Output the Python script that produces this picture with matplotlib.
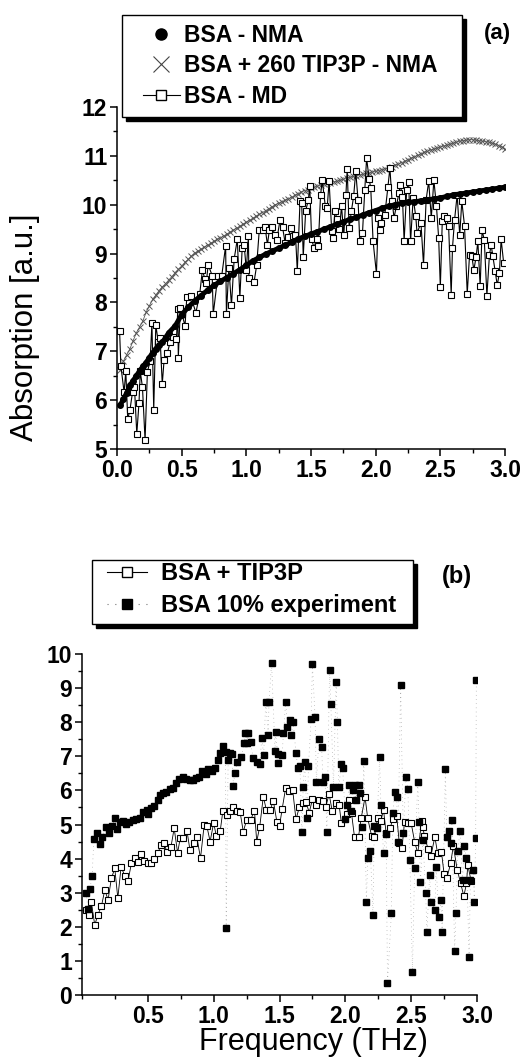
import numpy as np
import matplotlib
matplotlib.use("Agg")
import matplotlib.pyplot as plt
from matplotlib.lines import Line2D
from matplotlib.patches import Rectangle
from matplotlib.ticker import MultipleLocator, FormatStrFormatter

plt.rcParams["font.family"] = ["Liberation Sans", "DejaVu Sans"]

# ---------------- panel (a) data ----------------
# BSA - NMA (black dots)
nma_x = [0.025, 0.05, 0.075, 0.1, 0.125, 0.15, 0.175, 0.2, 0.225, 0.25, 0.275, 0.3,
         0.325, 0.35, 0.375, 0.4, 0.45, 0.5, 0.55, 0.6, 0.65, 0.7, 0.75, 0.8, 0.85,
         0.9, 0.95, 1.0, 1.05, 1.1, 1.15, 1.2, 1.25, 1.3, 1.35, 1.4, 1.45, 1.5, 1.55,
         1.6, 1.65, 1.7, 1.75, 1.8, 1.85, 1.9, 1.95, 2.0, 2.05, 2.1, 2.15, 2.2, 2.25,
         2.3, 2.35, 2.4, 2.45, 2.5, 2.55, 2.6, 2.65, 2.7, 2.75, 2.8, 2.85, 2.9, 2.95, 3.0]
nma_y = [5.90, 6.02, 6.15, 6.30, 6.40, 6.50, 6.60, 6.69, 6.77, 6.87, 6.97, 7.05,
         7.12, 7.18, 7.28, 7.38, 7.52, 7.75, 7.90, 8.03, 8.14, 8.25, 8.35, 8.43, 8.51,
         8.59, 8.67, 8.76, 8.85, 8.92, 8.99, 9.05, 9.11, 9.17, 9.23, 9.30, 9.35, 9.40, 9.45,
         9.50, 9.55, 9.60, 9.65, 9.70, 9.74, 9.79, 9.84, 9.88, 9.93, 9.97, 10.00, 10.03, 10.05,
         10.06, 10.08, 10.10, 10.12, 10.14, 10.17, 10.20, 10.22, 10.24, 10.26, 10.28, 10.30,
         10.32, 10.34, 10.36]

# BSA + 260 TIP3P - NMA (x markers)
tip_x = np.arange(1, 121) * 0.025
tip_y = [6.62, 6.80, 6.93, 7.05, 7.22, 7.38, 7.50, 7.62, 7.80, 7.93, 8.06, 8.15,
         8.24, 8.32, 8.38, 8.46, 8.53, 8.61, 8.68, 8.74, 8.82, 8.88, 8.95, 9.01,
         9.05, 9.09, 9.13, 9.17, 9.21, 9.25, 9.29, 9.32, 9.36, 9.40, 9.44, 9.48,
         9.52, 9.56, 9.60, 9.64, 9.68, 9.72, 9.76, 9.80, 9.84, 9.88, 9.92, 9.96,
         10.00, 10.03, 10.06, 10.09, 10.12, 10.15, 10.19, 10.22, 10.26, 10.29, 10.31, 10.34,
         10.36, 10.38, 10.40, 10.42, 10.44, 10.45, 10.47, 10.48, 10.50, 10.52, 10.54, 10.56,
         10.58, 10.59, 10.61, 10.62, 10.64, 10.65, 10.67, 10.68, 10.70, 10.72, 10.74, 10.76,
         10.78, 10.81, 10.83, 10.86, 10.89, 10.92, 10.95, 10.98, 11.01, 11.04, 11.07, 11.09,
         11.12, 11.14, 11.16, 11.18, 11.20, 11.22, 11.24, 11.26, 11.28, 11.30, 11.31, 11.32,
         11.33, 11.33, 11.32, 11.31, 11.30, 11.29, 11.28, 11.26, 11.24, 11.21, 11.18, 11.14]

# BSA - MD (open squares)
md_x = [0.02, 0.03, 0.055, 0.068, 0.083, 0.10, 0.12, 0.135, 0.153, 0.17, 0.18, 0.197,
        0.217, 0.235, 0.256, 0.27, 0.284, 0.30, 0.32, 0.333, 0.35, 0.364, 0.39, 0.41,
        0.43, 0.46, 0.47, 0.474, 0.49, 0.526, 0.54, 0.57, 0.61, 0.64, 0.66, 0.68,
        0.69, 0.705, 0.736, 0.744, 0.78, 0.81, 0.84, 0.846, 0.865, 0.885, 0.906, 0.93,
        0.95, 0.968, 0.983, 1.0, 1.016, 1.02, 1.06, 1.08, 1.10, 1.127, 1.145, 1.163,
        1.178, 1.20, 1.22, 1.235, 1.26, 1.28, 1.30, 1.325, 1.343, 1.363, 1.38, 1.394,
        1.415, 1.428, 1.44, 1.459, 1.48, 1.49, 1.505, 1.523, 1.543, 1.556, 1.574, 1.587,
        1.61, 1.625, 1.64, 1.66, 1.67, 1.685, 1.70, 1.72, 1.736, 1.754, 1.77, 1.78,
        1.795, 1.813, 1.83, 1.846, 1.864, 1.877, 1.898, 1.916, 1.93, 1.95, 1.962, 1.98,
        2.006, 2.02, 2.03, 2.04, 2.07, 2.095, 2.11, 2.127, 2.142, 2.16, 2.18, 2.19,
        2.207, 2.22, 2.24, 2.255, 2.27, 2.29, 2.31, 2.32, 2.35, 2.37, 2.39, 2.41,
        2.43, 2.45, 2.47, 2.487, 2.50, 2.515, 2.53, 2.548, 2.564, 2.584, 2.594, 2.61,
        2.63, 2.65, 2.666, 2.687, 2.708, 2.726, 2.743, 2.759, 2.777, 2.79, 2.808, 2.823,
        2.84, 2.86, 2.88, 2.893, 2.905, 2.924, 2.94, 2.957, 2.97, 2.99]
md_y = [7.41, 6.70, 6.16, 6.60, 5.61, 5.80, 6.16, 6.27, 5.31, 5.94, 6.59, 6.26,
        5.18, 6.58, 6.80, 7.57, 5.80, 7.53, 7.18, 7.28, 6.33, 6.82, 6.97, 7.18,
        7.29, 7.26, 7.86, 6.87, 7.89, 7.52, 8.12, 8.13, 7.79, 8.18, 8.66, 8.48,
        8.40, 8.77, 8.55, 7.76, 8.55, 8.55, 9.16, 7.76, 8.71, 7.94, 8.89, 9.29,
        8.10, 9.12, 9.18, 8.66, 9.36, 8.50, 8.42, 8.76, 9.48, 9.49, 9.54, 9.18,
        9.48, 9.54, 9.39, 9.27, 9.68, 9.54, 9.22, 9.34, 9.52, 9.36, 9.39, 8.64,
        10.07, 10.03, 8.94, 9.88, 10.10, 10.39, 9.29, 9.12, 9.29, 9.16, 10.20, 10.50,
        9.98, 9.93, 10.48, 9.46, 9.32, 9.88, 9.71, 9.50, 9.97, 9.37, 10.20, 10.73,
        9.52, 9.88, 10.18, 10.68, 10.09, 9.25, 9.42, 10.31, 10.95, 10.52, 10.34, 9.25,
        8.59, 9.73, 9.48, 9.63, 9.78, 10.37, 10.75, 10.07, 9.73, 9.97, 10.24, 10.41,
        10.16, 9.25, 10.31, 10.46, 9.25, 10.14, 9.76, 9.42, 9.63, 8.77, 10.10, 10.48,
        9.73, 10.50, 9.97, 9.32, 8.31, 9.66, 9.76, 9.73, 9.56, 8.16, 9.12, 9.69,
        10.20, 9.37, 10.07, 9.57, 8.18, 8.98, 8.96, 8.66, 8.94, 9.25, 8.33, 9.48,
        9.27, 8.14, 8.98, 9.18, 8.96, 8.64, 8.35, 8.61, 9.29, 8.80]

# ---------------- panel (b) data ----------------
# BSA + TIP3P (open squares)
sim_x = [0.034, 0.052, 0.07, 0.097, 0.12, 0.148, 0.173, 0.198, 0.223, 0.249, 0.272, 0.297,
         0.325, 0.35, 0.375, 0.40, 0.425, 0.45, 0.47, 0.50, 0.524, 0.55, 0.577, 0.60,
         0.62, 0.645, 0.676, 0.70, 0.726, 0.746, 0.77, 0.797, 0.82, 0.847, 0.873, 0.90,
         0.928, 0.948, 0.973, 1.0, 1.02, 1.05, 1.07, 1.10, 1.125, 1.15, 1.175, 1.20,
         1.225, 1.25, 1.28, 1.31, 1.327, 1.35, 1.377, 1.40, 1.43, 1.453, 1.48, 1.50,
         1.52, 1.547, 1.575, 1.60, 1.625, 1.65, 1.676, 1.70, 1.726, 1.75, 1.777, 1.80,
         1.827, 1.85, 1.877, 1.90, 1.93, 1.953, 1.97, 2.01, 2.03, 2.047, 2.07, 2.10,
         2.12, 2.15, 2.17, 2.20, 2.22, 2.245, 2.27, 2.29, 2.31, 2.34, 2.36, 2.39,
         2.41, 2.43, 2.45, 2.475, 2.50, 2.526, 2.55, 2.58, 2.59, 2.60, 2.63, 2.65,
         2.68, 2.70, 2.73, 2.75, 2.77, 2.80, 2.82, 2.85, 2.875, 2.90, 2.92, 2.93, 2.955]
sim_y = [2.49, 2.35, 2.74, 2.05, 2.35, 2.61, 3.08, 2.79, 3.42, 3.71, 2.84, 3.76,
         3.49, 3.35, 3.86, 4.01, 3.91, 4.13, 3.94, 3.88, 3.86, 3.98, 4.17, 4.40,
         4.47, 4.20, 4.35, 4.89, 4.17, 4.60, 4.60, 4.82, 4.25, 4.45, 4.62, 4.01,
         4.99, 4.96, 4.50, 5.05, 4.66, 4.82, 5.40, 5.28, 5.40, 5.52, 5.40, 5.38,
         4.79, 5.13, 5.13, 5.40, 4.50, 4.94, 5.82, 5.43, 5.43, 5.70, 5.08, 4.96,
         5.45, 6.08, 5.99, 6.01, 5.15, 5.50, 5.64, 5.67, 5.35, 5.74, 5.57, 5.72,
         5.70, 5.50, 5.89, 5.40, 5.64, 5.57, 5.04, 5.31, 5.72, 5.33, 4.62, 4.64,
         5.18, 5.80, 5.18, 4.66, 4.64, 5.18, 5.11, 5.43, 4.74, 4.89, 5.15, 5.25,
         4.45, 4.30, 5.08, 5.05, 5.04, 4.50, 4.16, 5.11, 4.92, 4.66, 4.27, 4.08,
         4.64, 4.17, 4.20, 3.55, 3.42, 3.86, 4.37, 3.67, 3.29, 2.90, 3.27, 3.81, 3.35]

# BSA 10% experiment (filled squares)
exp_x = [0.03, 0.047, 0.06, 0.077, 0.09, 0.115, 0.14, 0.155, 0.18, 0.206, 0.23, 0.25,
         0.267, 0.286, 0.31, 0.337, 0.36, 0.39, 0.41, 0.44, 0.46, 0.49, 0.50, 0.526,
         0.55, 0.577, 0.595, 0.615, 0.64, 0.665, 0.69, 0.716, 0.74, 0.767, 0.79, 0.817,
         0.84, 0.867, 0.888, 0.913, 0.94, 0.96, 0.985, 1.01, 1.03, 1.05, 1.07, 1.09,
         1.095, 1.11, 1.125, 1.14, 1.15, 1.16, 1.18, 1.21, 1.23, 1.24, 1.25, 1.26,
         1.28, 1.30, 1.33, 1.35, 1.365, 1.38, 1.395, 1.415, 1.42, 1.44, 1.466, 1.47,
         1.486, 1.49, 1.52, 1.53, 1.547, 1.56, 1.58, 1.59, 1.604, 1.625, 1.64, 1.655,
         1.67, 1.68, 1.69, 1.71, 1.72, 1.74, 1.75, 1.77, 1.78, 1.80, 1.82, 1.83,
         1.845, 1.86, 1.88, 1.89, 1.91, 1.93, 1.94, 1.95, 1.97, 1.98, 2.00, 2.01,
         2.03, 2.04, 2.06, 2.07, 2.08, 2.10, 2.115, 2.13, 2.14, 2.16, 2.17, 2.19,
         2.21, 2.22, 2.24, 2.26, 2.27, 2.29, 2.31, 2.32, 2.35, 2.36, 2.375, 2.39,
         2.40, 2.42, 2.44, 2.46, 2.475, 2.49, 2.51, 2.526, 2.55, 2.56, 2.57, 2.59,
         2.61, 2.62, 2.64, 2.65, 2.68, 2.69, 2.71, 2.73, 2.735, 2.76, 2.77, 2.79,
         2.80, 2.81, 2.83, 2.84, 2.855, 2.87, 2.89, 2.905, 2.92, 2.94, 2.95, 2.97,
         2.98, 2.99, 2.995]
exp_y = [2.98, 2.51, 3.10, 3.49, 4.57, 4.76, 4.43, 4.64, 4.92, 4.74, 4.96, 5.18,
         4.86, 5.08, 5.10, 5.01, 5.08, 5.13, 5.15, 5.20, 5.38, 5.43, 5.31, 5.47,
         5.54, 5.72, 5.87, 5.91, 5.96, 6.03, 6.08, 6.21, 6.33, 6.38, 6.33, 6.30,
         6.30, 6.35, 6.40, 6.58, 6.48, 6.62, 6.58, 6.65, 6.89, 7.11, 7.30, 7.14,
         1.96, 6.89, 7.09, 7.06, 6.13, 6.50, 6.84, 6.97, 7.38, 7.67, 7.38, 7.67,
         7.43, 6.94, 6.84, 6.77, 7.53, 7.04, 8.60, 7.62, 8.60, 9.73, 7.16, 7.72,
         7.06, 6.79, 7.04, 7.67, 8.60, 7.85, 8.06, 7.62, 8.01, 7.09, 6.65, 6.72,
         4.79, 6.11, 6.84, 5.18, 6.72, 8.08, 9.70, 8.16, 6.26, 7.52, 7.28, 6.26,
         6.40, 4.79, 9.53, 8.53, 6.11, 9.19, 8.01, 6.11, 6.77, 6.65, 5.15, 5.57,
         6.16, 5.40, 6.01, 6.16, 5.72, 6.16, 5.91, 4.94, 6.87, 2.72, 4.01, 4.23,
         2.35, 4.95, 4.90, 6.97, 5.57, 4.16, 4.72, 0.36, 2.40, 5.33, 5.96, 5.82,
         4.50, 9.09, 4.74, 6.38, 6.03, 3.96, 0.68, 3.71, 6.26, 5.08, 3.32, 4.55,
         2.98, 1.86, 3.52, 2.74, 2.49, 3.76, 2.30, 2.79, 1.86, 6.62, 4.64, 4.82,
         4.47, 5.13, 1.30, 2.40, 4.23, 4.82, 3.37, 4.37, 4.01, 1.12, 3.37, 3.67,
         2.74, 4.60, 9.24]

W, H = 529, 1064
fig = plt.figure(figsize=(W / 100, H / 100), dpi=100)


def px_axes(left, right, top, bottom):
    return fig.add_axes([left / W, 1 - bottom / H, (right - left) / W, (bottom - top) / H])


def px_box(left, right, top, bottom):
    # legend frame with a hard black drop shadow, in figure pixels
    fig.patches.append(Rectangle(((left + 4) / W, 1 - (bottom + 4) / H), (right - left) / W,
                                 (bottom - top) / H, transform=fig.transFigure,
                                 facecolor="black", edgecolor="black", zorder=2))
    fig.patches.append(Rectangle((left / W, 1 - bottom / H), (right - left) / W,
                                 (bottom - top) / H, transform=fig.transFigure,
                                 facecolor="white", edgecolor="black", lw=1.0, zorder=3))


def style_axes(ax):
    for s in ["top", "right"]:
        ax.spines[s].set_visible(False)
    for s in ["left", "bottom"]:
        ax.spines[s].set_linewidth(1.1)
    ax.tick_params(which="major", direction="out", length=5, width=1.1,
                   labelsize=16.5, pad=2)
    ax.tick_params(which="minor", direction="out", length=3, width=1.0)
    for lab in ax.get_xticklabels() + ax.get_yticklabels():
        lab.set_fontweight("bold")


# ---------------- panel (a) ----------------
ax1 = px_axes(117, 505, 107, 449)
ax1.plot(tip_x, tip_y, color="#555555", lw=0.6, marker="x", ms=5, mew=0.7, zorder=2)
ax1.plot(md_x, md_y, color="black", lw=0.8, marker="s", ms=4.5, mfc="white",
         mec="black", mew=0.8, zorder=3)
ax1.plot(nma_x, nma_y, color="black", lw=3.5, marker="o", ms=4, zorder=4)
ax1.set_xlim(0, 3)
ax1.set_ylim(5, 12)
ax1.xaxis.set_major_locator(MultipleLocator(0.5))
ax1.xaxis.set_minor_locator(MultipleLocator(0.25))
ax1.xaxis.set_major_formatter(FormatStrFormatter("%.1f"))
ax1.yaxis.set_major_locator(MultipleLocator(1))
ax1.yaxis.set_minor_locator(MultipleLocator(0.5))
style_axes(ax1)

px_box(122, 462, 15, 117)
h_a = [Line2D([], [], ls="none", marker="o", ms=8, color="black"),
       Line2D([], [], ls="none", marker="x", ms=11, mew=0.8, color="#444444"),
       Line2D([], [], ls="-", lw=0.8, marker="s", ms=7, mfc="white", mec="black", color="black")]
fig.legend(h_a, ["BSA - NMA", "BSA + 260 TIP3P - NMA", "BSA - MD"],
           loc="upper left", bbox_to_anchor=(143 / W, 1 - 24 / H),
           borderaxespad=0, borderpad=0, frameon=False,
           prop={"weight": "bold", "size": 16.5}, handlelength=1.6, handletextpad=0.2,
           labelspacing=0.32)
fig.text(497 / W, 1 - 33 / H, "(a)", fontsize=16, fontweight="bold", ha="center", va="center")

# ---------------- panel (b) ----------------
ax2 = px_axes(82, 477, 654, 995)
ax2.plot(exp_x, exp_y, color="#999999", lw=0.5, ls=(0, (1, 5)), zorder=2)
ax2.plot(exp_x, exp_y, ls="none", marker="s", ms=5, color="black", zorder=4)
ax2.plot(sim_x, sim_y, color="black", lw=0.6, marker="s", ms=4.5, mfc="white",
         mec="black", mew=0.8, zorder=3)
ax2.set_xlim(0, 3)
ax2.set_ylim(0, 10)
ax2.set_xticks([0.5, 1.0, 1.5, 2.0, 2.5, 3.0])
ax2.xaxis.set_minor_locator(MultipleLocator(0.25))
ax2.xaxis.set_major_formatter(FormatStrFormatter("%.1f"))
ax2.yaxis.set_major_locator(MultipleLocator(1))
ax2.yaxis.set_minor_locator(MultipleLocator(0.5))
style_axes(ax2)

px_box(92, 413, 560, 624)
h_b = [Line2D([], [], ls="-", lw=0.8, marker="s", ms=7, mfc="white", mec="black", color="black"),
       Line2D([], [], ls=(0, (1, 6)), lw=0.8, marker="s", ms=7, color="#777777",
              mfc="black", mec="black")]
fig.legend(h_b, ["BSA + TIP3P", "BSA 10% experiment"],
           loc="upper left", bbox_to_anchor=(107 / W, 1 - 562 / H),
           borderaxespad=0, borderpad=0, frameon=False,
           prop={"weight": "bold", "size": 17}, handlelength=1.7, handletextpad=0.6,
           labelspacing=0.38)
fig.text(457 / W, 1 - 577 / H, "(b)", fontsize=17, fontweight="bold", ha="center", va="center")

fig.text(25 / W, 1 - 327 / H, "Absorption [a.u.]", fontsize=22.5, rotation=90,
         ha="center", va="center")
fig.text(313 / W, 1 - 1042 / H, "Frequency (THz)", fontsize=22, ha="center", va="center")

fig.savefig("out.png", dpi=100)
